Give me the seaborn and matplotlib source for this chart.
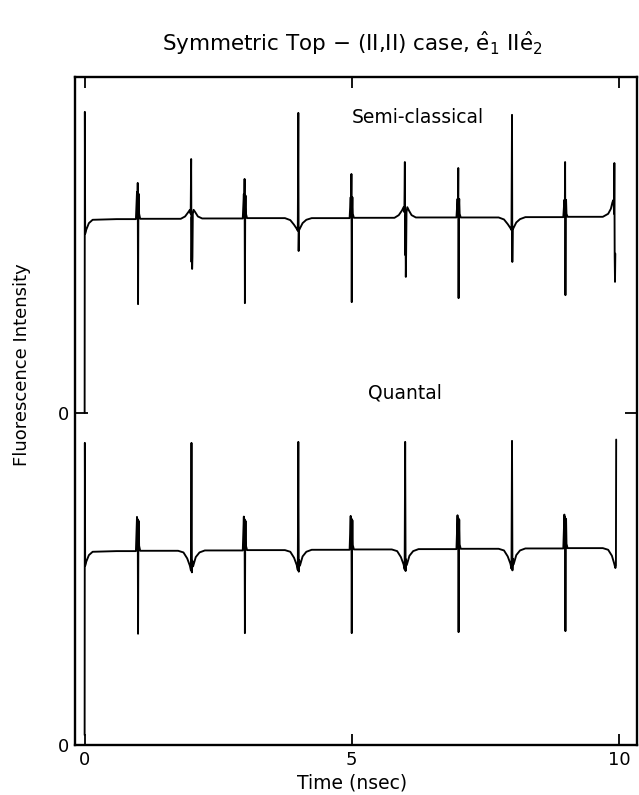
import matplotlib
matplotlib.use("Agg")
import matplotlib.pyplot as plt
import seaborn as sns
import pandas as pd

# ---------------- data ----------------
# Quantal trace (lower panel, its zero at y=0)
quantal_t = [
    0.000, 0.004, 0.010, 0.030, 0.080, 0.150, 0.600,
    0.960, 0.980, 0.988, 0.994, 1.000, 1.006, 1.012, 1.020, 1.040,
    1.750, 1.850, 1.920, 1.970, 1.990, 2.000, 2.008, 2.015, 2.030, 2.080, 2.150, 2.250,
    2.960, 2.980, 2.988, 2.994, 3.000, 3.006, 3.012, 3.020, 3.040,
    3.750, 3.850, 3.920, 3.970, 3.990, 4.000, 4.008, 4.015, 4.030, 4.080, 4.150, 4.250,
    4.960, 4.980, 4.988, 4.994, 5.000, 5.006, 5.012, 5.020, 5.040,
    5.750, 5.850, 5.920, 5.970, 5.990, 6.000, 6.008, 6.015, 6.030, 6.080, 6.150, 6.250,
    6.960, 6.980, 6.988, 6.994, 7.000, 7.006, 7.012, 7.020, 7.040,
    7.750, 7.850, 7.920, 7.970, 7.990, 8.000, 8.008, 8.015, 8.030, 8.080, 8.150, 8.250,
    8.960, 8.980, 8.988, 8.994, 9.000, 9.006, 9.012, 9.020, 9.040,
    9.700, 9.800, 9.870, 9.910, 9.935, 9.945, 9.950,
]
quantal_v = [
    0.030, 0.910, 0.540, 0.552, 0.572, 0.582, 0.584,
    0.584, 0.687, 0.600, 0.680, 0.335, 0.620, 0.675, 0.600, 0.585,
    0.585, 0.580, 0.562, 0.540, 0.525, 0.910, 0.520, 0.555, 0.538, 0.566, 0.580, 0.586,
    0.586, 0.688, 0.600, 0.680, 0.337, 0.620, 0.675, 0.600, 0.587,
    0.587, 0.582, 0.564, 0.542, 0.527, 0.913, 0.522, 0.557, 0.540, 0.568, 0.582, 0.588,
    0.588, 0.690, 0.602, 0.682, 0.337, 0.622, 0.677, 0.602, 0.589,
    0.589, 0.584, 0.566, 0.544, 0.529, 0.913, 0.524, 0.559, 0.542, 0.570, 0.584, 0.590,
    0.590, 0.692, 0.604, 0.684, 0.340, 0.624, 0.679, 0.604, 0.591,
    0.591, 0.586, 0.568, 0.546, 0.531, 0.916, 0.526, 0.561, 0.544, 0.572, 0.586, 0.592,
    0.592, 0.694, 0.606, 0.686, 0.343, 0.626, 0.681, 0.606, 0.593,
    0.593, 0.588, 0.570, 0.548, 0.533, 0.540, 0.920,
]

# Semi-classical trace (upper panel, its zero at y=1)
semi_t = [
    0.000, 0.004, 0.010, 0.030, 0.080, 0.150, 0.600,
    0.960, 0.980, 0.988, 0.994, 1.000, 1.006, 1.012, 1.020, 1.040,
    1.800, 1.880, 1.940, 1.970, 1.985, 1.994, 2.000, 2.006, 2.012, 2.018, 2.025, 2.040, 2.070, 2.120, 2.200,
    2.960, 2.980, 2.988, 2.994, 3.000, 3.006, 3.012, 3.020, 3.040,
    3.750, 3.850, 3.920, 3.970, 3.990, 4.000, 4.006, 4.012, 4.030, 4.080, 4.150, 4.250,
    4.960, 4.980, 4.988, 4.994, 5.000, 5.006, 5.012, 5.020, 5.040,
    5.800, 5.880, 5.940, 5.970, 5.985, 5.994, 6.000, 6.006, 6.012, 6.018, 6.025, 6.040, 6.070, 6.120, 6.200,
    6.960, 6.980, 6.988, 6.994, 7.000, 7.006, 7.012, 7.020, 7.040,
    7.750, 7.850, 7.920, 7.970, 7.990, 8.000, 8.006, 8.012, 8.030, 8.080, 8.150, 8.250,
    8.960, 8.980, 8.988, 8.994, 9.000, 9.006, 9.012, 9.020, 9.040,
    9.700, 9.800, 9.850, 9.880, 9.900, 9.910, 9.916, 9.922, 9.928, 9.934,
]
semi_v = [
    1.000, 1.907, 1.540, 1.552, 1.572, 1.582, 1.584,
    1.584, 1.666, 1.600, 1.693, 1.328, 1.620, 1.660, 1.600, 1.585,
    1.585, 1.592, 1.605, 1.612, 1.600, 1.765, 1.455, 1.590, 1.434, 1.470, 1.600, 1.612, 1.605, 1.592, 1.586,
    1.586, 1.660, 1.600, 1.705, 1.331, 1.620, 1.655, 1.600, 1.587,
    1.587, 1.581, 1.567, 1.555, 1.549, 1.904, 1.488, 1.550, 1.556, 1.572, 1.582, 1.587,
    1.587, 1.650, 1.600, 1.720, 1.334, 1.620, 1.650, 1.600, 1.588,
    1.588, 1.596, 1.610, 1.620, 1.605, 1.756, 1.476, 1.595, 1.410, 1.480, 1.605, 1.620, 1.610, 1.596, 1.589,
    1.589, 1.645, 1.600, 1.738, 1.346, 1.620, 1.645, 1.600, 1.589,
    1.589, 1.583, 1.569, 1.557, 1.551, 1.898, 1.455, 1.552, 1.558, 1.574, 1.584, 1.590,
    1.590, 1.642, 1.600, 1.756, 1.355, 1.620, 1.642, 1.600, 1.591,
    1.591, 1.600, 1.615, 1.635, 1.642, 1.600, 1.753, 1.470, 1.395, 1.480,
]

series_labels = ["Semi-classical", "Quantal"]
x_ticks = [0, 5, 10]
x_tick_labels = ["0", "5", "10"]
y_ticks = [0, 1]
y_tick_labels = ["0", "0"]

# ---------------- plotting ----------------
sns.set_style("white")
plt.rcParams["font.family"] = ["DejaVu Sans"]
plt.rcParams["mathtext.fontset"] = "dejavusans"
plt.rcParams["text.color"] = "black"

fig = plt.figure(figsize=(6.39, 7.95), dpi=100)
ax = fig.add_axes([0.1174, 0.0629, 0.8795, 0.8402])

df_q = pd.DataFrame({"t": quantal_t, "v": quantal_v})
df_s = pd.DataFrame({"t": semi_t, "v": semi_v})
sns.lineplot(data=df_s, x="t", y="v", ax=ax, estimator=None, sort=False,
             color="black", lw=1.35)
sns.lineplot(data=df_q, x="t", y="v", ax=ax, estimator=None, sort=False,
             color="black", lw=1.35)

ax.set_xlim(-0.18, 10.34)
ax.set_ylim(0, 2.012)

ax.set_xticks(x_ticks)
ax.set_xticklabels(x_tick_labels, fontsize=13, color="black")
ax.set_yticks(y_ticks)
ax.set_yticklabels(y_tick_labels, fontsize=13, color="black")
ax.tick_params(axis="x", direction="in", length=8, width=1.3, top=True,
               bottom=True, pad=4, colors="black")
ax.tick_params(axis="y", direction="in", length=9, width=1.3, left=True,
               right=True, pad=4, colors="black")
ax.set_xlabel("")
ax.set_ylabel("")

for sp in ax.spines.values():
    sp.set_visible(True)
    sp.set_color("black")
    sp.set_linewidth(1.7)

ax.text(6.24, 1.89, series_labels[0], fontsize=13.5, ha="center", va="center",
        color="black")
ax.text(6.0, 1.06, series_labels[1], fontsize=13.5, ha="center", va="center",
        color="black")

fig.text(0.552, 0.946,
         r"Symmetric Top $-$ (II,II) case, $\hat{\mathrm{e}}_1$ II$\hat{\mathrm{e}}_2$",
         ha="center", va="center", fontsize=15.5, color="black")
fig.text(0.034, 0.541, "Fluorescence Intensity", rotation=90,
         ha="center", va="center", fontsize=13, color="black")
fig.text(0.551, 0.015, "Time (nsec)", ha="center", va="center", fontsize=13.5,
         color="black")

fig.savefig("out.png", dpi=100)
